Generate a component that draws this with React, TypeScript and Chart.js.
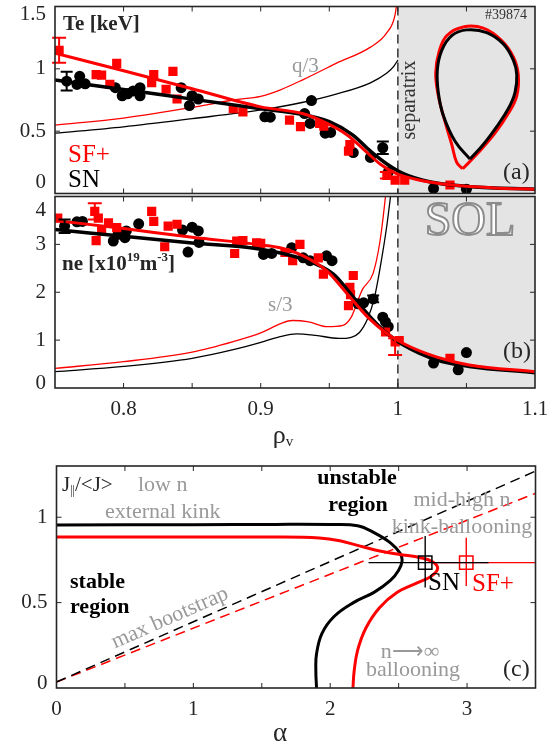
import React, { useEffect, useRef } from 'react';
import { Chart, registerables } from 'chart.js';

Chart.register(...registerables);

type P = [number, number];

// ---------------- (a) electron temperature ----------------
const teSNPoints: P[] = [
  [0.7585, 0.901], [0.766, 0.875], [0.768, 0.94], [0.772, 0.88], [0.794, 0.849], [0.799, 0.784],
  [0.803, 0.8], [0.807, 0.823], [0.812, 0.849], [0.812, 0.784], [0.842, 0.849], [0.85, 0.784],
  [0.848, 0.705], [0.8545, 0.758], [0.903, 0.615], [0.907, 0.612], [0.937, 0.745], [0.932, 0.641],
  [0.936, 0.5625], [0.947, 0.484], [0.951, 0.49], [0.9675, 0.328], [0.98, 0.289], [0.989, 0.367],
  [0.993, 0.172], [1.026, 0.041], [1.05, 0.034],
];
const teSFPoints: P[] = [
  [0.753, 1.148], [0.78, 0.953], [0.784, 0.95], [0.795, 1.044], [0.79, 0.875], [0.822, 0.953],
  [0.8205, 0.89], [0.836, 0.979], [0.831, 0.836], [0.839, 0.758], [0.88, 0.68], [0.887, 0.654],
  [0.921, 0.588], [0.929, 0.537], [0.943, 0.5625], [0.946, 0.54], [0.965, 0.393], [0.964, 0.34],
  [0.992, 0.146], [0.998, 0.107], [1.005, 0.107], [1.038, 0.068],
];
const teSNFit: P[] = [
  [0.75, 0.91], [0.8, 0.835], [0.85, 0.757], [0.9, 0.68], [0.93, 0.635], [0.95, 0.576], [0.967, 0.47],
  [0.98, 0.34], [0.992, 0.237], [1.004, 0.159], [1.023, 0.094], [1.053, 0.055], [1.1, 0.034],
];
const teSFFit: P[] = [
  [0.75, 1.125], [0.8, 0.985], [0.85, 0.84], [0.9, 0.695], [0.931, 0.64], [0.945, 0.58], [0.963, 0.47],
  [0.975, 0.354], [0.987, 0.237], [0.999, 0.159], [1.016, 0.107], [1.04, 0.068], [1.07, 0.045], [1.1, 0.034],
];
const qSN: P[] = [
  [0.75, 0.484], [0.8, 0.535], [0.85, 0.6], [0.9, 0.67], [0.931, 0.732], [0.955, 0.797], [0.98, 0.888],
  [0.992, 0.966], [0.997, 1.02], [1.0, 1.07],
];
const qSF: P[] = [
  [0.75, 0.549], [0.8, 0.605], [0.85, 0.69], [0.88, 0.75], [0.9, 0.78], [0.914, 0.83], [0.931, 0.914],
  [0.955, 1.044], [0.98, 1.174], [0.992, 1.29], [0.998, 1.435], [1.0, 1.6],
];
const lcfsSN: P[] = [
  [1.0526, 0.276], [1.0623, 0.393], [1.0721, 0.537], [1.0805, 0.68], [1.0854, 0.81], [1.0867, 0.953],
  [1.0842, 1.07], [1.0769, 1.2], [1.0648, 1.291], [1.0502, 1.3125], [1.0393, 1.266], [1.032, 1.148],
  [1.0288, 0.992], [1.0295, 0.81], [1.0331, 0.628], [1.0417, 0.419], [1.0526, 0.276],
];
const lcfsSF: P[] = [
  [1.0473, 0.198], [1.0587, 0.328], [1.0708, 0.484], [1.0805, 0.641], [1.0867, 0.784], [1.0878, 0.953],
  [1.0842, 1.096], [1.0757, 1.227], [1.0623, 1.326], [1.0477, 1.336], [1.0356, 1.266], [1.03, 1.135],
  [1.0276, 0.966], [1.0295, 0.784], [1.0337, 0.602], [1.0393, 0.393], [1.0429, 0.25], [1.0473, 0.198],
];
const teSNErr = [
  { x: 0.7585, lo: 0.826, hi: 0.976 },
  { x: 0.989, lo: 0.317, hi: 0.417 },
];
const teSFErr = [
  { x: 0.753, lo: 1.048, hi: 1.25 },
  { x: 0.992, lo: 0.12, hi: 0.172 },
];

// ---------------- (b) electron density ----------------
const neSNPoints: P[] = [
  [0.757, 3.38], [0.766, 3.47], [0.77, 3.48], [0.7925, 3.07], [0.796, 3.21], [0.801, 3.14], [0.802, 3.28],
  [0.811, 3.43], [0.843, 3.3], [0.847, 2.84], [0.85, 3.36], [0.8545, 3.28], [0.855, 3.04], [0.902, 2.79],
  [0.908, 2.81], [0.9226, 2.93], [0.931, 2.72], [0.936, 2.66], [0.948, 2.76], [0.952, 2.66], [0.971, 1.76],
  [0.975, 1.78], [0.982, 1.86], [0.989, 1.48], [0.991, 1.38], [0.993, 1.28], [1.026, 0.52], [1.044, 0.38],
  [1.05, 0.74],
];
const neSFPoints: P[] = [
  [0.752, 3.55], [0.779, 3.69], [0.7816, 3.55], [0.784, 3.28], [0.78, 3.08], [0.789, 3.45], [0.795, 3.35],
  [0.8205, 3.69], [0.822, 3.48], [0.83, 2.95], [0.8325, 3.38], [0.839, 3.42], [0.881, 2.81], [0.8825, 3.07],
  [0.887, 3.08], [0.897, 3.03], [0.9, 3.02], [0.9177, 2.83], [0.9286, 3.0], [0.9233, 2.66], [0.942, 2.72],
  [0.9457, 2.38], [0.9675, 2.35], [0.965, 2.1], [0.9655, 1.95], [0.964, 1.72], [0.991, 1.17], [0.998, 0.965],
  [1.001, 0.99], [1.038, 0.62],
];
const neSNFit: P[] = [
  [0.75, 3.31], [0.8, 3.17], [0.85, 3.03], [0.9, 2.9], [0.931, 2.69], [0.953, 2.38], [0.9675, 1.9],
  [0.98, 1.48], [0.992, 1.14], [1.004, 0.9], [1.028, 0.59], [1.052, 0.45], [1.1, 0.32],
];
const neSFFit: P[] = [
  [0.75, 3.5], [0.8, 3.33], [0.85, 3.15], [0.9, 2.99], [0.914, 2.93], [0.931, 2.76], [0.948, 2.45],
  [0.963, 1.97], [0.978, 1.48], [0.992, 1.14], [1.004, 0.93], [1.028, 0.65], [1.052, 0.48], [1.1, 0.34],
];
const sSN: P[] = [
  [0.75, 0.34], [0.8, 0.45], [0.85, 0.62], [0.88, 0.8], [0.902, 0.97], [0.915, 1.08], [0.926, 1.13],
  [0.94, 1.1], [0.957, 1.035], [0.966, 1.06], [0.972, 1.16], [0.978, 1.45], [0.983, 1.9], [0.987, 2.5],
  [0.992, 3.4], [0.9955, 4.2],
];
const sSF: P[] = [
  [0.75, 0.41], [0.8, 0.55], [0.85, 0.75], [0.88, 0.97], [0.9, 1.15], [0.915, 1.35], [0.923, 1.41],
  [0.935, 1.38], [0.948, 1.28], [0.96, 1.31], [0.966, 1.48], [0.97, 1.76], [0.974, 2.05], [0.982, 2.4],
  [0.987, 3.07], [0.9906, 3.9], [0.992, 4.3],
];
const neSNErr = [
  { x: 0.757, lo: 3.24, hi: 3.52 },
  { x: 0.982, lo: 1.79, hi: 1.93 },
];
const neSFErr = [
  { x: 0.779, lo: 3.52, hi: 3.86 },
  { x: 0.998, lo: 0.69, hi: 1.04 },
];

// ---------------- (c) stability diagram ----------------
const boundarySN: P[] = [
  [0, 0.955], [1, 0.956], [1.6, 0.958], [2.0, 0.957], [2.2, 0.95], [2.32, 0.91], [2.44, 0.85], [2.51, 0.79],
  [2.525, 0.745], [2.5, 0.69], [2.44, 0.63], [2.32, 0.56], [2.17, 0.5], [2.03, 0.42], [1.94, 0.32],
  [1.9, 0.2], [1.895, 0.1], [1.9, 0],
];
const boundarySF: P[] = [
  [0, 0.884], [1, 0.884], [1.6, 0.884], [1.92, 0.878], [2.07, 0.862], [2.2, 0.835], [2.32, 0.81],
  [2.5, 0.783], [2.66, 0.763], [2.75, 0.738], [2.785, 0.7], [2.74, 0.655], [2.635, 0.615], [2.49, 0.56],
  [2.36, 0.47], [2.26, 0.35], [2.2, 0.22], [2.175, 0.1], [2.166, 0],
];
const bootstrapSN: P[] = [[0, 0.035], [3.5, 1.27]];
const bootstrapSF: P[] = [[0, 0.035], [3.5, 1.14]];
const operatingSN: P[] = [[2.694, 0.734]];
const operatingSF: P[] = [[2.994, 0.734]];
const operatingSNRange = { xlo: 2.28, xhi: 3.157, ylo: 0.589, yhi: 0.89 };
const operatingSFRange = { xlo: 2.78, xhi: 3.6, ylo: 0.598, yhi: 0.88 };

// ---------------- ticks ----------------
const rhoTicks = [0.75, 0.8, 0.85, 0.9, 0.95, 1, 1.05, 1.1];
const rhoLabels = ['', '0.8', '', '0.9', '', '1', '', '1.1'];
const teTicks = [0, 0.5, 1, 1.5];
const teLabels = ['0', '0.5', '1', '1.5'];
const neTicks = [0, 1, 2, 3, 4];
const neLabels = ['0', '1', '2', '3', '4'];
const alphaTicks = [0, 0.5, 1, 1.5, 2, 2.5, 3, 3.5];
const alphaLabels = ['0', '', '1', '', '2', '', '3', ''];
const jTicks = [0, 0.5, 1];
const jLabels = ['0', '0.5', '1'];

// ---------------- styling ----------------
const RED = '#ff0000';
const BLACK = '#000000';
const GRAY = '#999999';
const AXIS = '#262626';
const FONT = '"Liberation Serif","Times New Roman",serif';
const W = 556;

const fontStr = (size: number, bold?: boolean) => `${bold ? 'bold ' : ''}${size}px ${FONT}`;
const T = (s: string, size: number, bold = false, dy = 0) => ({ s, size, bold, dy });
const xy = (arr: P[]) => arr.map(([x, y]) => ({ x, y }));

function drawNote(ctx: any, n: any, top: number) {
  ctx.save();
  ctx.translate(n.x, n.y - top);
  if (n.rot) ctx.rotate((n.rot * Math.PI) / 180);
  ctx.textBaseline = 'middle';
  ctx.textAlign = 'left';
  const widths = n.segs.map((s: any) => {
    ctx.font = fontStr(s.size, s.bold);
    return ctx.measureText(s.s).width;
  });
  const total = widths.reduce((a: number, b: number) => a + b, 0);
  let cx = n.align === 'center' ? -total / 2 : n.align === 'right' ? -total : 0;
  n.segs.forEach((s: any, i: number) => {
    ctx.font = fontStr(s.size, s.bold);
    ctx.fillStyle = n.color;
    ctx.fillText(s.s, cx, s.dy);
    if (n.outline) {
      ctx.lineWidth = 1.9;
      ctx.strokeStyle = n.outline;
      ctx.strokeText(s.s, cx, s.dy);
    }
    cx += widths[i];
  });
  ctx.restore();
}

function makePlugin(cfg: any) {
  return {
    id: 'panel' + cfg.name,
    beforeDatasetsDraw(chart: any) {
      const { ctx, chartArea: a, scales } = chart;
      const xs = scales.x;
      ctx.save();
      if (cfg.shade) {
        const x0 = xs.getPixelForValue(cfg.shade[0]);
        const x1 = xs.getPixelForValue(cfg.shade[1]);
        ctx.fillStyle = '#e4e4e4';
        ctx.fillRect(x0, a.top, x1 - x0, a.bottom - a.top);
      }
      (cfg.backNotes || []).forEach((n: any) => drawNote(ctx, n, cfg.top));
      if (cfg.vline !== undefined) {
        const px = xs.getPixelForValue(cfg.vline);
        ctx.strokeStyle = '#333333';
        ctx.lineWidth = 1.5;
        ctx.setLineDash([9, 5]);
        ctx.beginPath();
        ctx.moveTo(px, a.top);
        ctx.lineTo(px, a.bottom);
        ctx.stroke();
        ctx.setLineDash([]);
      }
      ctx.restore();
    },
    afterDatasetsDraw(chart: any) {
      const { ctx, chartArea: a, scales } = chart;
      const xs = scales.x;
      const ys = scales.y;
      ctx.save();
      (cfg.errs || []).forEach((g: any) => {
        ctx.strokeStyle = g.color;
        ctx.lineWidth = 2;
        ctx.beginPath();
        g.bars.forEach((e: any) => {
          const px = xs.getPixelForValue(e.x);
          const p1 = ys.getPixelForValue(e.lo);
          const p2 = ys.getPixelForValue(e.hi);
          ctx.moveTo(px, p1);
          ctx.lineTo(px, p2);
          ctx.moveTo(px - g.cap, p1);
          ctx.lineTo(px + g.cap, p1);
          ctx.moveTo(px - g.cap, p2);
          ctx.lineTo(px + g.cap, p2);
        });
        ctx.stroke();
      });
      (cfg.crosses || []).forEach((c: any) => {
        const [cx, cy] = c.pt;
        ctx.save();
        ctx.beginPath();
        ctx.rect(a.left, a.top, a.right - a.left, a.bottom - a.top);
        ctx.clip();
        ctx.strokeStyle = c.color;
        ctx.lineWidth = 1.4;
        ctx.beginPath();
        ctx.moveTo(xs.getPixelForValue(c.r.xlo), ys.getPixelForValue(cy));
        ctx.lineTo(xs.getPixelForValue(c.r.xhi), ys.getPixelForValue(cy));
        ctx.moveTo(xs.getPixelForValue(cx), ys.getPixelForValue(c.r.ylo));
        ctx.lineTo(xs.getPixelForValue(cx), ys.getPixelForValue(c.r.yhi));
        ctx.stroke();
        ctx.restore();
      });
      (cfg.notes || []).forEach((n: any) => drawNote(ctx, n, cfg.top));

      const TL = 5;
      ctx.strokeStyle = AXIS;
      ctx.lineWidth = 1;
      ctx.beginPath();
      cfg.xTicks.forEach((v: number) => {
        const px = xs.getPixelForValue(v);
        if (px <= a.left + 1 || px >= a.right - 1) return;
        ctx.moveTo(px, a.bottom);
        ctx.lineTo(px, a.bottom - TL);
        ctx.moveTo(px, a.top);
        ctx.lineTo(px, a.top + TL);
      });
      cfg.yTicks.forEach((v: number) => {
        const py = ys.getPixelForValue(v);
        if (py <= a.top + 1 || py >= a.bottom - 1) return;
        ctx.moveTo(a.left, py);
        ctx.lineTo(a.left + TL, py);
        ctx.moveTo(a.right, py);
        ctx.lineTo(a.right - TL, py);
      });
      ctx.stroke();
      ctx.lineWidth = 1.6;
      ctx.strokeRect(a.left, a.top, a.right - a.left, a.bottom - a.top);

      ctx.fillStyle = AXIS;
      ctx.font = fontStr(21);
      ctx.textBaseline = 'middle';
      if (cfg.xLabels) {
        ctx.textAlign = 'center';
        cfg.xTicks.forEach((v: number, i: number) => {
          const l = cfg.xLabels[i];
          if (l) ctx.fillText(l, xs.getPixelForValue(v), a.bottom + 21);
        });
      }
      ctx.textAlign = 'right';
      cfg.yTicks.forEach((v: number, i: number) => {
        const l = cfg.yLabels[i];
        if (!l) return;
        let py = ys.getPixelForValue(v);
        if (py >= a.bottom - 1) py -= cfg.yShift[0];
        else if (py <= a.top + 1) py += cfg.yShift[1];
        ctx.fillText(l, a.left - 9, py);
      });
      ctx.restore();
    },
  };
}

const lineDs = (data: P[], color: string, width: number, extra: any = {}) => ({
  data: xy(data),
  showLine: true,
  borderColor: color,
  borderWidth: width,
  pointRadius: 0,
  fill: false,
  cubicInterpolationMode: 'monotone',
  ...extra,
});
const circleDs = (data: P[], color: string) => ({
  data: xy(data),
  showLine: false,
  pointStyle: 'circle',
  pointRadius: 5.5,
  backgroundColor: color,
  borderWidth: 0,
});
const squareDs = (data: P[], color: string) => ({
  data: xy(data),
  showLine: false,
  pointStyle: 'rect',
  pointRadius: 6.5,
  backgroundColor: color,
  borderWidth: 0,
});

function baseOptions(pad: any, xr: P, yr: P) {
  return {
    responsive: false,
    animation: false,
    devicePixelRatio: 1,
    events: [],
    layout: { padding: pad },
    plugins: { legend: { display: false }, tooltip: { enabled: false } },
    scales: {
      x: { type: 'linear', display: false, min: xr[0], max: xr[1] },
      y: { type: 'linear', display: false, min: yr[0], max: yr[1] },
    },
  };
}

function buildA(): any {
  const cfg = {
    name: 'A', top: 0, shade: [1, 1.1], vline: 1,
    xTicks: rhoTicks, xLabels: null, yTicks: teTicks, yLabels: teLabels, yShift: [11, 8],
    errs: [
      { color: BLACK, cap: 6, bars: teSNErr },
      { color: RED, cap: 7, bars: teSFErr },
    ],
    notes: [
      { segs: [T('Te [keV]', 21, true)], x: 63, y: 25, color: AXIS },
      { segs: [T('q/3', 21)], x: 292, y: 66, color: GRAY },
      { segs: [T('#39874', 14)], x: 485, y: 15, color: '#333333' },
      { segs: [T('separatrix', 20)], x: 410, y: 100, rot: -90, align: 'center', color: '#333333' },
      { segs: [T('(a)', 24)], x: 503, y: 173, color: AXIS },
      { segs: [T('SF+', 25)], x: 68, y: 155, color: RED },
      { segs: [T('SN', 25)], x: 68, y: 180, color: BLACK },
    ],
  };
  return {
    type: 'scatter',
    data: {
      datasets: [
        lineDs(teSFFit, RED, 3),
        lineDs(teSNFit, BLACK, 3.5),
        squareDs(teSFPoints, RED),
        circleDs(teSNPoints, BLACK),
        lineDs(lcfsSN, BLACK, 3, { cubicInterpolationMode: 'default', tension: 0.4 }),
        lineDs(lcfsSF, RED, 3, { cubicInterpolationMode: 'default', tension: 0.4 }),
        lineDs(qSF, RED, 1.3),
        lineDs(qSN, BLACK, 1.3),
      ],
    },
    options: baseOptions({ left: 55, right: 21, top: 5, bottom: 4 }, [0.75, 1.1], [0, 1.5]),
    plugins: [makePlugin(cfg)],
  };
}

function buildB(): any {
  const cfg = {
    name: 'B', top: 190, shade: [1, 1.1], vline: 1,
    xTicks: rhoTicks, xLabels: rhoLabels, yTicks: neTicks, yLabels: neLabels, yShift: [5, 14],
    errs: [
      { color: BLACK, cap: 6, bars: neSNErr },
      { color: RED, cap: 7, bars: neSFErr },
    ],
    backNotes: [
      { segs: [T('SOL', 48)], x: 470, y: 222, align: 'center', color: '#ffffff', outline: '#8c8c8c' },
    ],
    notes: [
      {
        segs: [T('ne [x10', 21, true), T('19', 13, true, -7), T('m', 21, true), T('-3', 13, true, -7), T(']', 21, true)],
        x: 62, y: 265, color: AXIS,
      },
      { segs: [T('s/3', 21)], x: 268, y: 305, color: GRAY },
      { segs: [T('(b)', 24)], x: 503, y: 352, color: AXIS },
      { segs: [T('ρ', 26), T('v', 15, false, 6)], x: 283, y: 436, align: 'center', color: AXIS },
    ],
  };
  return {
    type: 'scatter',
    data: {
      datasets: [
        lineDs(neSFFit, RED, 3),
        lineDs(neSNFit, BLACK, 3.5),
        squareDs(neSFPoints, RED),
        circleDs(neSNPoints, BLACK),
        lineDs(sSF, RED, 1.3),
        lineDs(sSN, BLACK, 1.3),
      ],
    },
    options: baseOptions({ left: 55, right: 21, top: 5, bottom: 62 }, [0.75, 1.1], [0, 4]),
    plugins: [makePlugin(cfg)],
  };
}

function buildC(): any {
  const cfg = {
    name: 'C', top: 455,
    xTicks: alphaTicks, xLabels: alphaLabels, yTicks: jTicks, yLabels: jLabels, yShift: [5, 0],
    crosses: [
      { pt: operatingSF[0], r: operatingSFRange, color: RED },
      { pt: operatingSN[0], r: operatingSNRange, color: BLACK },
    ],
    notes: [
      { segs: [T('J', 21), T('||', 12, false, 6), T('/<J>', 21)], x: 62, y: 485, color: AXIS },
      { segs: [T('low n', 22)], x: 138, y: 485, color: GRAY },
      { segs: [T('external kink', 22)], x: 105, y: 512, color: GRAY },
      { segs: [T('stable', 22, true)], x: 70, y: 582, color: BLACK },
      { segs: [T('region', 22, true)], x: 70, y: 607, color: BLACK },
      { segs: [T('max bootstrap', 22)], x: 170, y: 618, rot: -23.8, align: 'center', color: GRAY },
      { segs: [T('unstable', 22, true)], x: 357, y: 478, align: 'center', color: BLACK },
      { segs: [T('region', 22, true)], x: 358, y: 505, align: 'center', color: BLACK },
      { segs: [T('mid-high n', 22)], x: 462, y: 500, align: 'center', color: GRAY },
      { segs: [T('kink-ballooning', 22)], x: 462, y: 527, align: 'center', color: GRAY },
      { segs: [T('SN', 25)], x: 428, y: 583, color: BLACK },
      { segs: [T('SF+', 25)], x: 472, y: 584, color: RED },
      { segs: [T('n', 22), T('⟶', 22), T('∞', 22)], x: 410, y: 652, align: 'center', color: GRAY },
      { segs: [T('ballooning', 22)], x: 413, y: 670, align: 'center', color: GRAY },
      { segs: [T('(c)', 24)], x: 503, y: 670, color: AXIS },
      { segs: [T('α', 27)], x: 280, y: 734, align: 'center', color: AXIS },
    ],
  };
  const sq = (data: P[], color: string) => ({
    data: xy(data),
    showLine: false,
    pointStyle: 'rect',
    pointRadius: 9.5,
    backgroundColor: 'rgba(0,0,0,0)',
    borderColor: color,
    borderWidth: 1.5,
  });
  return {
    type: 'scatter',
    data: {
      datasets: [
        sq(operatingSN, BLACK),
        sq(operatingSF, RED),
        lineDs(boundarySF, RED, 3, { cubicInterpolationMode: 'default', tension: 0.4 }),
        lineDs(boundarySN, BLACK, 3, { cubicInterpolationMode: 'default', tension: 0.4 }),
        lineDs(bootstrapSN, BLACK, 1.5, { borderDash: [10, 6] }),
        lineDs(bootstrapSF, RED, 1.5, { borderDash: [10, 6] }),
      ],
    },
    options: baseOptions({ left: 56.5, right: 20.5, top: 10, bottom: 58 }, [0, 3.5], [0, 1.3]),
    plugins: [makePlugin(cfg)],
  };
}

function Panel({ top, height, build }: { top: number; height: number; build: () => any }) {
  const ref = useRef<HTMLCanvasElement>(null);
  useEffect(() => {
    const chart = new Chart(ref.current as HTMLCanvasElement, build());
    return () => chart.destroy();
  }, []);
  return (
    <canvas
      ref={ref}
      width={W}
      height={height}
      style={{ position: 'absolute', left: 0, top, width: W, height }}
    />
  );
}

export default function App() {
  return (
    <div style={{ position: 'absolute', left: 0, top: 0, width: W, height: 746, background: '#ffffff', overflow: 'hidden' }}>
      <Panel top={0} height={200} build={buildA} />
      <Panel top={190} height={260} build={buildB} />
      <Panel top={455} height={291} build={buildC} />
    </div>
  );
}
